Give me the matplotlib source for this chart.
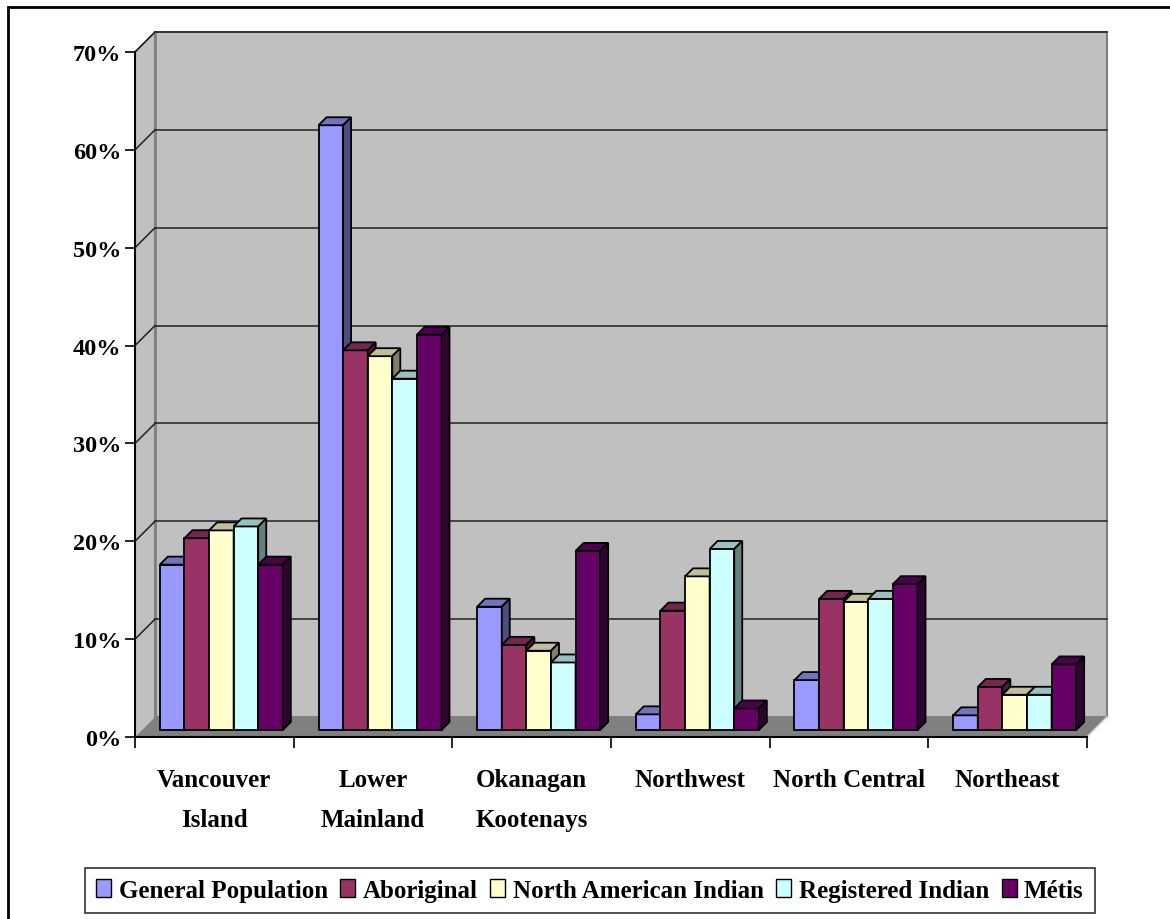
import matplotlib
matplotlib.use("Agg")
import matplotlib.pyplot as plt
from matplotlib.patches import Polygon, Rectangle
from matplotlib.lines import Line2D

# ---------------- data ----------------
categories = ["Vancouver\nIsland", "Lower\nMainland", "Okanagan\nKootenays",
              "Northwest", "North Central", "Northeast"]
series_names = ["General Population", "Aboriginal", "North American Indian",
                "Registered Indian", "Métis"]
general_population = [16.9, 61.8, 12.6, 1.6, 5.1, 1.5]
aboriginal = [19.6, 38.8, 8.7, 12.2, 13.4, 4.4]
north_american_indian = [20.4, 38.2, 8.1, 15.7, 13.1, 3.6]
registered_indian = [20.8, 35.9, 6.9, 18.5, 13.4, 3.6]
metis = [16.9, 40.4, 18.3, 2.2, 14.9, 6.7]
y_ticks = [0, 10, 20, 30, 40, 50, 60, 70]
y_tick_labels = ["0%", "10%", "20%", "30%", "40%", "50%", "60%", "70%"]

series_values = [general_population, aboriginal, north_american_indian,
                 registered_indian, metis]
front_colors = ["#9999FF", "#993366", "#FFFFCC", "#CCFFFF", "#660066"]
top_colors = ["#7373BF", "#732650", "#BFBF99", "#99BFBF", "#4D004D"]
side_colors = ["#4D4D80", "#4D1A33", "#80806A", "#668080", "#330033"]

# ---------------- figure ----------------
W, H = 1170, 920
fig = plt.figure(figsize=(W / 100, H / 100), dpi=100)
fig.patch.set_facecolor("white")

ax_l, ax_r, ax_t, ax_b = 135, 1087, 53, 738
ax = fig.add_axes([ax_l / W, (H - ax_b) / H, (ax_r - ax_l) / W, (ax_b - ax_t) / H])
ax.set_xlim(0, len(categories))
ax.set_ylim(0, 70)
ax.patch.set_visible(False)

kx = (ax_r - ax_l) / len(categories)   # px per category
ky = (ax_b - ax_t) / 70.0              # px per percent

def px(dxp, dyp):
    return dxp / kx, dyp / ky

wdx, wdy = px(20, 20)      # wall depth
bdx, bdy = px(7, 7)        # bar plane offset
ddx, ddy = px(8, 8)        # bar depth

ncat = len(categories)
ytop = 70

# walls
left_wall = Polygon([(0, 0), (0, ytop), (wdx, ytop + wdy), (wdx, wdy)], closed=True,
                    facecolor="#C0C0C0", edgecolor="none", clip_on=False, zorder=0.5)
ax.add_patch(left_wall)
back_wall = Rectangle((wdx, wdy), ncat, ytop, facecolor="#C0C0C0", edgecolor="#808080",
                      linewidth=1.5, clip_on=False, zorder=0.5)
ax.add_patch(back_wall)
floor = Polygon([(0, 0), (ncat, 0), (ncat + wdx, wdy), (wdx, wdy)], closed=True,
                facecolor="#808080", edgecolor="none", clip_on=False, zorder=0.6)
ax.add_patch(floor)
ax.add_line(Line2D([ncat, ncat + wdx], [0, wdy], color="#D8D8D8", lw=1.2,
                   clip_on=False, zorder=0.7))
ax.add_line(Line2D([wdx, wdx], [wdy, ytop + wdy], color="#808080", lw=2,
                   clip_on=False, zorder=0.8))
ax.add_line(Line2D([0, wdx], [ytop, ytop + wdy], color="#808080", lw=1.2,
                   clip_on=False, zorder=0.8))
for t in y_ticks[1:]:
    ax.add_line(Line2D([wdx, ncat + wdx], [t + wdy, t + wdy], color="#202020", lw=1.1,
                       clip_on=False, zorder=0.9))
    ax.add_line(Line2D([0, wdx], [t, t + wdy], color="#202020", lw=1.1,
                       clip_on=False, zorder=0.9))

# bars
nser = len(series_values)
bw = 24.6 / kx
start = 0.5 - nser * bw / 2
for j, (vals, fc, tc, sc) in enumerate(zip(series_values, front_colors, top_colors, side_colors)):
    z = 3 + j * 0.1
    xs = [i + start + j * bw + bdx for i in range(ncat)]
    ax.bar(xs, vals, width=bw, bottom=bdy, align="edge", color=fc, edgecolor="black",
           linewidth=1.3, zorder=z, clip_on=False)
    for x0, v in zip(xs, vals):
        top = Polygon([(x0, v + bdy), (x0 + bw, v + bdy), (x0 + bw + ddx, v + bdy + ddy),
                       (x0 + ddx, v + bdy + ddy)], closed=True, facecolor=tc,
                      edgecolor="black", linewidth=1.3, zorder=z + 0.05, clip_on=False)
        side = Polygon([(x0 + bw, bdy), (x0 + bw + ddx, bdy + ddy),
                        (x0 + bw + ddx, v + bdy + ddy), (x0 + bw, v + bdy)], closed=True,
                       facecolor=sc, edgecolor="black", linewidth=1.3, zorder=z + 0.05,
                       clip_on=False)
        ax.add_patch(top)
        ax.add_patch(side)

# axes, ticks, labels
font = dict(family="Liberation Serif", weight="bold")
for s in ["top", "right"]:
    ax.spines[s].set_visible(False)
for s in ["left", "bottom"]:
    ax.spines[s].set_color("black")
    ax.spines[s].set_linewidth(1.5)
    ax.spines[s].set_zorder(2)

ax.set_yticks(y_ticks)
ax.set_yticklabels(y_tick_labels, fontdict=dict(size=17.5, **font))
ax.tick_params(axis="y", direction="out", length=7.5, width=1.2, pad=2.5, color="black")

ax.set_xticks(range(ncat + 1))
ax.set_xticklabels([""] * (ncat + 1))
ax.tick_params(axis="x", which="major", direction="out", length=8, width=1.2, color="black")
ax.set_xticks([i + 0.5 for i in range(ncat)], minor=True)
ax.set_xticklabels(categories, minor=True, fontdict=dict(size=18, **font))
ax.tick_params(axis="x", which="minor", length=0, pad=22)
for lab in ax.get_xticklabels(minor=True):
    lab.set_linespacing(1.95)
    lab.set_verticalalignment("top")

# legend
handles = [Rectangle((0, 0), 1, 1, facecolor=c, edgecolor="black", linewidth=1)
           for c in front_colors]
leg = fig.legend(handles, series_names, loc="center", ncol=5,
                 bbox_to_anchor=(590 / W, 1 - 891.5 / H),
                 prop=dict(family="Liberation Serif", weight="bold", size=18),
                 frameon=True, fancybox=False, edgecolor="black",
                 handlelength=0.6, handleheight=0.75, handletextpad=0.3,
                 columnspacing=0.5, borderpad=0.45, borderaxespad=0)
leg.get_frame().set_linewidth(1.2)

# outer border
fig.patches.append(Rectangle((8 / W, -0.1), 1.2, 1 - 8 / H + 0.1, transform=fig.transFigure,
                             facecolor="none", edgecolor="black", linewidth=2))

fig.savefig("out.png", dpi=100)
